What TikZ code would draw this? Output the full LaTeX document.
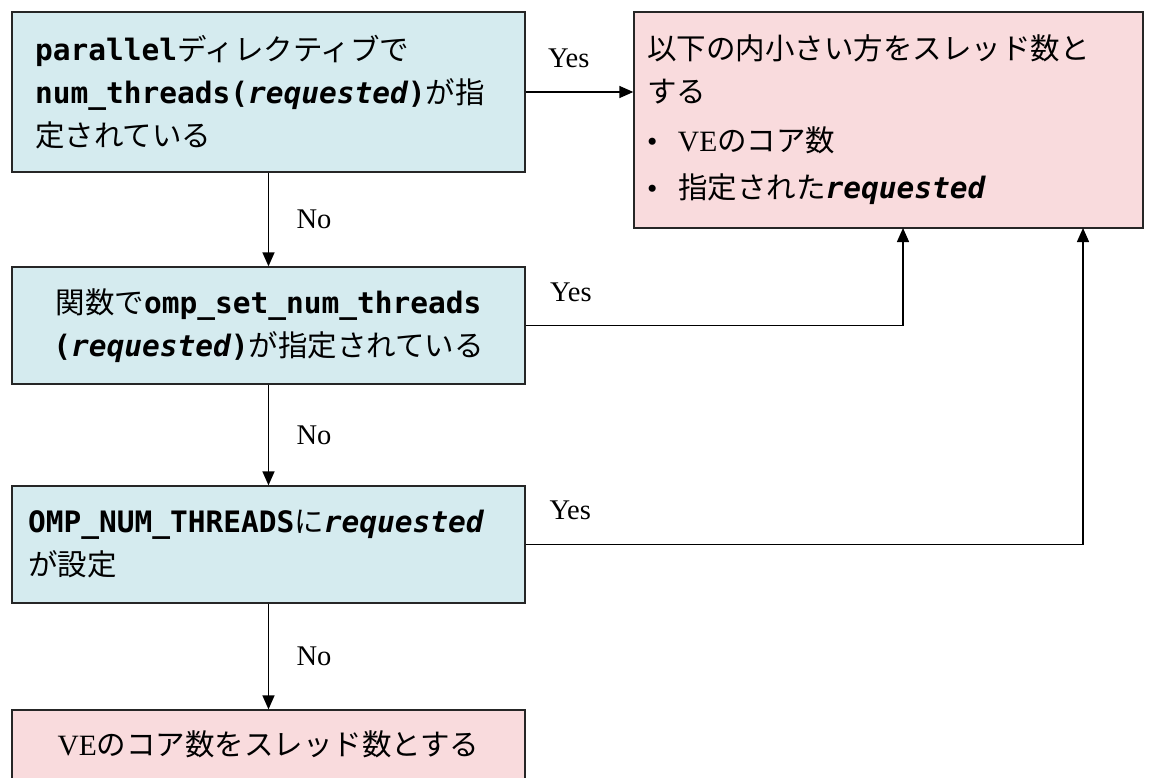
\documentclass[tikz,border=0pt]{standalone}
\usepackage{fontspec}
\setmainfont{Noto Sans CJK JP}
\setmonofont{DejaVu Sans Mono}
\newfontfamily\latfont{Liberation Serif}
\usetikzlibrary{positioning,arrows.meta}

\definecolor{qblue}{HTML}{D5EBEF}
\definecolor{apink}{HTML}{F9DBDD}
\newcommand{\cmd}[1]{{\ttfamily\bfseries #1}}
\newcommand{\reqd}{{\ttfamily\bfseries\itshape requested}}
\newcommand{\bul}{\makebox[31pt][l]{\latfont •}}

\begin{document}
\begin{tikzpicture}[
  x=1pt, y=-1pt,
  box/.style={rectangle, draw=black!85, line width=1.3pt, minimum width=513pt, inner ysep=0pt, font=\fontsize{29.5}{43}\selectfont},
  qnode/.style={box, fill=qblue},
  anode/.style={box, fill=apink},
  arw/.style={-{Triangle[length=14pt,width=12pt]}, line width=1.4pt},
  lbl/.style={font=\latfont\fontsize{28.5}{30}\selectfont}
  ]
\useasboundingbox (0,0) rectangle (1155,778);

\node [qnode, text width=467pt, inner xsep=23pt, align=left, minimum height=160pt] (q1) at (268.5,92) {\cmd{parallel}ディレクティブで\\ \cmd{num\_threads(}\reqd\cmd{)}が指\\ 定されている};
\node [qnode, align=center, minimum height=117pt] (q2) at (268.5,325.5) {関数で\cmd{omp\_set\_num\_threads}\\ \cmd{(}\reqd\cmd{)}が指定されている};
\node [qnode, text width=481pt, inner xsep=16pt, align=left, minimum height=117pt] (q3) at (268.5,544.5) {\cmd{OMP\_NUM\_THREADS}に\reqd\\ が設定};

\node [anode, text width=483pt, inner xsep=13pt, align=left, minimum width=509pt, minimum height=216pt] (res) at (888.5,120) {以下の内小さい方をスレッド数と\\ する\\[6pt] \bul{\latfont VE}のコア数\\[4pt] \bul 指定された\reqd};
\node [anode, minimum height=69pt] (fin) at (268.5,744.5) {{\latfont VE}のコア数をスレッド数とする};

\coordinate (r2) at (903,228);
\coordinate (r3) at (1083,228);

\draw [arw] (q1.east) -- node [lbl, pos=0.4, above=20pt] {Yes} (q1.east -| res.west);
\draw [arw] (q1) -- node [lbl, right=24pt] {No} (q2);
\draw [arw] (q2) -| node [lbl, pos=0.06, above=20pt] {Yes} (r2);
\draw [arw] (q2) -- node [lbl, right=24pt] {No} (q3);
\draw [arw] (q3) -| node [lbl, pos=0.04, above=21pt] {Yes} (r3);
\draw [arw] (q3) -- node [lbl, right=24pt] {No} (fin);

\end{tikzpicture}
\end{document}
